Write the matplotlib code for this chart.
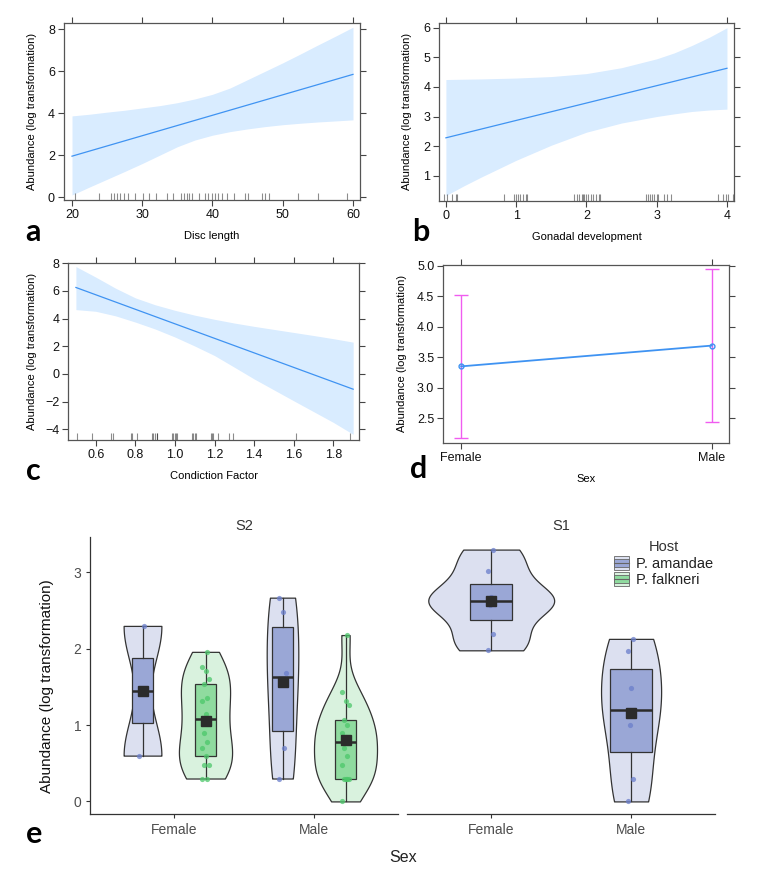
import numpy as np
import matplotlib
matplotlib.use('Agg')
import matplotlib.pyplot as plt
from matplotlib import cbook, mlab
from matplotlib.patches import Rectangle
from matplotlib.lines import Line2D
from matplotlib.legend_handler import HandlerBase

# ---- panel a: disc length effect
disc_x = [20, 22.5, 25, 27.5, 30, 32.5, 35, 37.5, 40, 42.5, 45, 47.5, 50, 52.5, 55, 57.5, 60]
disc_lo = [0.10, 0.48, 0.85, 1.22, 1.60, 2.00, 2.40, 2.72, 2.95, 3.12, 3.25, 3.36,
           3.45, 3.52, 3.58, 3.63, 3.68]
disc_hi = [3.87, 3.95, 4.05, 4.14, 4.25, 4.36, 4.50, 4.68, 4.90, 5.20, 5.60, 6.00,
           6.40, 6.82, 7.25, 7.67, 8.10]
disc_fit_x = [20, 60]
disc_fit = [1.95, 5.85]
disc_rug = [20.4, 23.9, 25.5, 26.0, 26.4, 26.9, 27.4, 28.0, 29.0, 30.1, 31.0, 32.0,
            33.5, 34.4, 35.5, 35.9, 36.3, 36.7, 37.1, 38.1, 38.9, 39.4, 39.9, 40.3,
            40.8, 41.4, 42.0, 43.0, 44.6, 45.1, 47.1, 47.5, 48.0, 52.2, 55.0, 59.1]

# ---- panel b: gonadal development effect
gonad_x = [0, 0.25, 0.5, 1, 1.5, 2, 2.5, 3, 3.25, 3.5, 3.75, 4]
gonad_lo = [0.33, 0.65, 0.95, 1.52, 2.03, 2.47, 2.78, 3.00, 3.09, 3.17, 3.22, 3.25]
gonad_hi = [4.25, 4.26, 4.27, 4.30, 4.35, 4.45, 4.65, 4.95, 5.15, 5.40, 5.68, 6.00]
gonad_fit_x = [0, 4]
gonad_fit = [2.28, 4.63]
gonad_rug = [-0.03, 0.02, 0.08, 0.14, 0.16, 0.82, 0.97, 1.00, 1.03, 1.06, 1.10, 1.14,
             1.16, 1.83, 1.86, 1.90, 1.93, 1.95, 1.96, 1.99, 2.02, 2.06, 2.10, 2.13,
             2.18, 2.20, 2.85, 2.88, 2.90, 2.93, 2.96, 3.00, 3.02, 3.10, 3.14, 3.21,
             3.87, 3.95, 3.98, 4.02, 4.09]

# ---- panel c: condition factor effect
cf_x = [0.5, 0.6, 0.7, 0.8, 0.9, 1.0, 1.1, 1.2, 1.3, 1.4, 1.5, 1.6, 1.7, 1.8, 1.9]
cf_lo = [4.65, 4.53, 4.20, 3.75, 3.25, 2.67, 2.02, 1.33, 0.49, -0.36, -1.15, -1.94,
         -2.72, -3.50, -4.36]
cf_hi = [7.76, 7.00, 6.20, 5.50, 5.00, 4.60, 4.25, 3.95, 3.68, 3.44, 3.22, 3.00,
         2.78, 2.55, 2.30]
cf_fit_x = [0.5, 1.9]
cf_fit = [6.25, -1.10]
cf_rug = [0.507, 0.583, 0.676, 0.686, 0.778, 0.782, 0.810, 0.883, 0.891, 0.900,
          0.908, 0.911, 0.984, 0.992, 1.000, 1.006, 1.009, 1.085, 1.093, 1.101,
          1.106, 1.180, 1.185, 1.190, 1.216, 1.275, 1.295, 1.610, 1.884]

# ---- panel d: sex effect
sex_levels = ['Female', 'Male']
sex_fit = [3.35, 3.69]
sex_lo = [2.17, 2.44]
sex_hi = [4.52, 4.94]

# ---- panel e: raw abundance by site / sex / host
s2_female_amandae = [0.60, 2.30]
s2_female_falkneri = [0.30, 0.30, 0.48, 0.48, 0.60, 0.70, 0.78, 0.90, 1.08,
                      1.15, 1.31, 1.36, 1.54, 1.61, 1.71, 1.76, 1.96]
s2_male_amandae = [0.30, 0.70, 1.58, 1.68, 2.48, 2.67]
s2_male_falkneri = [0.00, 0.30, 0.30, 0.30, 0.30, 0.48, 0.60, 0.70, 0.78,
                    0.85, 0.90, 1.00, 1.07, 1.26, 1.31, 1.43, 2.18]
s1_female_amandae = [1.98, 2.19, 2.57, 2.62, 2.68, 3.02, 3.30]
s1_male_amandae = [0.00, 0.30, 1.00, 1.20, 1.49, 1.97, 2.13]
hosts = ['P. amandae', 'P. falkneri']

plt.rcParams['font.family'] = ['Liberation Sans', 'DejaVu Sans']

W, H = 764, 882
fig = plt.figure(figsize=(W / 100, H / 100), dpi=100)

BAND = '#d9ecff'
LINE = '#3f93f2'


def px_axes(x0, y0, x1, y1):
    return fig.add_axes([x0 / W, 1 - y1 / H, (x1 - x0) / W, (y1 - y0) / H])


def lattice_style(ax):
    for s in ax.spines.values():
        s.set_color('#555555')
        s.set_linewidth(0.9)
    ax.tick_params(direction='out', length=4.5, width=0.8, colors='#444444',
                   top=True, right=True, labelsize=9, pad=2)
    ax.tick_params(labelcolor='#111111')


def add_rug(ax, xs):
    ax.vlines(xs, 0, 0.037, transform=ax.get_xaxis_transform(),
              colors='black', alpha=0.45, lw=0.8)


YLAB = 'Abundance (log transformation)'

# a
ax = px_axes(64, 23, 360, 200)
ax.fill_between(disc_x, disc_lo, disc_hi, color=BAND, lw=0)
ax.plot(disc_fit_x, disc_fit, color=LINE, lw=0.9)
add_rug(ax, disc_rug)
ax.set_xlim(18.86, 61.0)
ax.set_ylim(-0.14, 8.3)
ax.set_xticks([20, 30, 40, 50, 60])
ax.set_yticks([0, 2, 4, 6, 8])
lattice_style(ax)
ax.set_xlabel('Disc length', fontsize=8)
ax.xaxis.set_label_coords(0.5, -0.175)
ax.set_ylabel(YLAB, fontsize=8)
ax.yaxis.set_label_coords(-0.091, 0.5)

# b
ax = px_axes(439.3, 22.7, 734, 201)
ax.fill_between(gonad_x, gonad_lo, gonad_hi, color=BAND, lw=0)
ax.plot(gonad_fit_x, gonad_fit, color=LINE, lw=0.9)
add_rug(ax, gonad_rug)
ax.set_xlim(-0.094, 4.1)
ax.set_ylim(0.145, 6.17)
ax.set_xticks([0, 1, 2, 3, 4])
ax.set_yticks([1, 2, 3, 4, 5, 6])
lattice_style(ax)
ax.set_xlabel('Gonadal development', fontsize=8)
ax.xaxis.set_label_coords(0.5, -0.174)
ax.set_ylabel(YLAB, fontsize=8)
ax.yaxis.set_label_coords(-0.093, 0.5)

# c
ax = px_axes(68.3, 262.7, 359.3, 440)
ax.fill_between(cf_x, cf_lo, cf_hi, color=BAND, lw=0)
ax.plot(cf_fit_x, cf_fit, color=LINE, lw=0.9)
add_rug(ax, cf_rug)
ax.set_xlim(0.4616, 1.931)
ax.set_ylim(-4.77, 8.04)
ax.set_xticks([0.6, 0.8, 1.0, 1.2, 1.4, 1.6, 1.8])
ax.set_yticks([-4, -2, 0, 2, 4, 6, 8])
lattice_style(ax)
ax.set_xlabel('Condiction Factor', fontsize=8)
ax.xaxis.set_label_coords(0.5, -0.175)
ax.set_ylabel(YLAB, fontsize=8)
ax.yaxis.set_label_coords(-0.108, 0.5)

# d
ax = px_axes(443.3, 265, 729.3, 442.7)
fit = np.array(sex_fit)
ax.errorbar(sex_levels, sex_fit, yerr=[fit - np.array(sex_lo), np.array(sex_hi) - fit],
            fmt='none', ecolor='#f05cf0', elinewidth=1.0, capsize=5, capthick=1.0)
ax.plot(sex_levels, sex_fit, color=LINE, lw=1.3, marker='o', ms=3.5,
        mfc='none', mec=LINE, mew=1.0)
ax.set_xlim(-0.071, 1.07)
ax.set_ylim(2.10, 5.01)
ax.set_yticks([2.5, 3.0, 3.5, 4.0, 4.5, 5.0])
ax.set_yticklabels(['2.5', '3.0', '3.5', '4.0', '4.5', '5.0'])
lattice_style(ax)
ax.set_xlabel('Sex', fontsize=8)
ax.xaxis.set_label_coords(0.5, -0.176)
ax.set_ylabel(YLAB, fontsize=8)
ax.yaxis.set_label_coords(-0.127, 0.5)

# panel letters
for lab, x, y in [('a', 25, 241), ('b', 412, 241), ('c', 26, 480), ('d', 410, 478), ('e', 26, 843)]:
    fig.text(x / W, 1 - y / H, lab, fontsize=22, fontweight='bold',
             family=['Lato', 'DejaVu Sans'], ha='left', va='baseline')

# ---- panel e
COLORS = {
    'P. amandae': dict(violin='#dce0f0', box='#9aa7d6', dot='#6a7ecb'),
    'P. falkneri': dict(violin='#d9f2de', box='#8fdb9f', dot='#4cc76a'),
}
EDGE = '#333333'
DARK = '#2b2b2b'


def kde_nrd0(x, coords):
    x = np.asarray(x, float)
    sd = np.std(x, ddof=1)
    q1, q3 = np.percentile(x, [25, 75])
    bw = 0.9 * min(sd, (q3 - q1) / 1.34) * len(x) ** -0.2
    kde = mlab.GaussianKDE(x, bw_method=bw / sd)
    return kde.evaluate(coords)


def violin_box(ax, groups, positions, host_list, vwidth, bwidth):
    stats = cbook.violin_stats(groups, kde_nrd0, points=256)
    peaks = [s['vals'].max() for s in stats]
    widths = [vwidth * p / max(peaks) for p in peaks]
    parts = ax.violin(stats, positions=positions, widths=widths,
                      showmeans=False, showextrema=False, showmedians=False)
    for body, h in zip(parts['bodies'], host_list):
        body.set_alpha(1)
        body.set_facecolor(COLORS[h]['violin'])
        body.set_edgecolor(EDGE)
        body.set_linewidth(0.9)
        body.set_zorder(1)
    bp = ax.boxplot(groups, positions=positions, widths=bwidth, patch_artist=True,
                    showfliers=False, showcaps=False, showmeans=True, manage_ticks=False,
                    boxprops=dict(edgecolor=EDGE, linewidth=0.9),
                    whiskerprops=dict(color=EDGE, linewidth=0.9),
                    medianprops=dict(color=DARK, linewidth=1.8),
                    meanprops=dict(marker='s', markerfacecolor=DARK,
                                   markeredgecolor=DARK, markersize=6.5))
    for patch, h in zip(bp['boxes'], host_list):
        patch.set_facecolor(COLORS[h]['box'])
        patch.set_zorder(2)
    for ln in bp['whiskers'] + bp['medians']:
        ln.set_zorder(2.5)
    for ln in bp['means']:
        ln.set_zorder(5)
    for g, p, h in zip(groups, positions, host_list):
        n = len(g)
        jit = ((np.arange(n) * 3) % 5 - 2) * 0.011
        ax.scatter(p + jit, g, s=14, color=COLORS[h]['dot'], alpha=0.75,
                   lw=0, zorder=4)


def ggplot_style(ax, left_axis):
    for k in ['top', 'right']:
        ax.spines[k].set_visible(False)
    ax.spines['bottom'].set_color(EDGE)
    ax.spines['bottom'].set_linewidth(0.9)
    if left_axis:
        ax.spines['left'].set_color(EDGE)
        ax.spines['left'].set_linewidth(0.9)
    else:
        ax.spines['left'].set_visible(False)
        ax.tick_params(axis='y', left=False, labelleft=False)
    ax.tick_params(direction='out', length=3.2, width=0.8, colors=EDGE,
                   labelsize=10, pad=3)
    ax.tick_params(labelcolor='#4d4d4d')
    ax.set_xlim(-0.6, 1.6)
    ax.set_ylim(-0.165, 3.465)
    ax.set_xticks([0, 1])
    ax.set_xticklabels(sex_levels)
    ax.set_yticks([0, 1, 2, 3])


ax_s2 = px_axes(90, 537, 398, 814)
violin_box(ax_s2, [s2_female_amandae, s2_female_falkneri, s2_male_amandae, s2_male_falkneri],
           [-0.225, 0.225, 0.775, 1.225],
           [hosts[0], hosts[1], hosts[0], hosts[1]], 0.45, 0.15)
ggplot_style(ax_s2, True)
ax_s2.set_title('S2', fontsize=10.5, color='#333333', pad=5)
ax_s2.set_ylabel(YLAB, fontsize=11, color='#111111')
ax_s2.yaxis.set_label_coords(-0.118, 0.462)

ax_s1 = px_axes(407.3, 537, 715, 814)
violin_box(ax_s1, [s1_female_amandae, s1_male_amandae], [0, 1],
           [hosts[0], hosts[0]], 0.9, 0.3)
ggplot_style(ax_s1, False)
ax_s1.set_title('S1', fontsize=10.5, color='#333333', pad=5)

fig.text(403 / W, 1 - 858 / H, 'Sex', fontsize=11.5, color='#222222',
         ha='center', va='center')


class HostKey:
    def __init__(self, light, dark):
        self.light = light
        self.dark = dark


class HostKeyHandler(HandlerBase):
    def create_artists(self, legend, h, xd, yd, w, ht, fs, trans):
        x0, y0 = -xd, -yd
        outer = Rectangle((x0, y0), w, ht, facecolor=h.light, edgecolor='#666666',
                          lw=0.6, transform=trans)
        inner = Rectangle((x0, y0 + ht * 0.22), w, ht * 0.56, facecolor=h.dark,
                          edgecolor='#666666', lw=0.6, transform=trans)
        mid = Line2D([x0, x0 + w], [y0 + ht / 2] * 2, color='#666666', lw=0.8,
                     transform=trans)
        return [outer, inner, mid]


keys = [HostKey(COLORS[h]['violin'], COLORS[h]['box']) for h in hosts]
leg = ax_s1.legend(keys, hosts, handler_map={HostKey: HostKeyHandler()},
                   title='Host', loc='upper left',
                   bbox_to_anchor=(604 / W, 1 - 530 / H), bbox_transform=fig.transFigure,
                   frameon=False, fontsize=10.5, title_fontsize=10.5,
                   handlelength=1.0, handleheight=1.1, handletextpad=0.5,
                   labelspacing=0.1, borderpad=0.2)
leg.get_title().set_color('#333333')
for t in leg.get_texts():
    t.set_color('#222222')

fig.savefig('out.png', dpi=100)
